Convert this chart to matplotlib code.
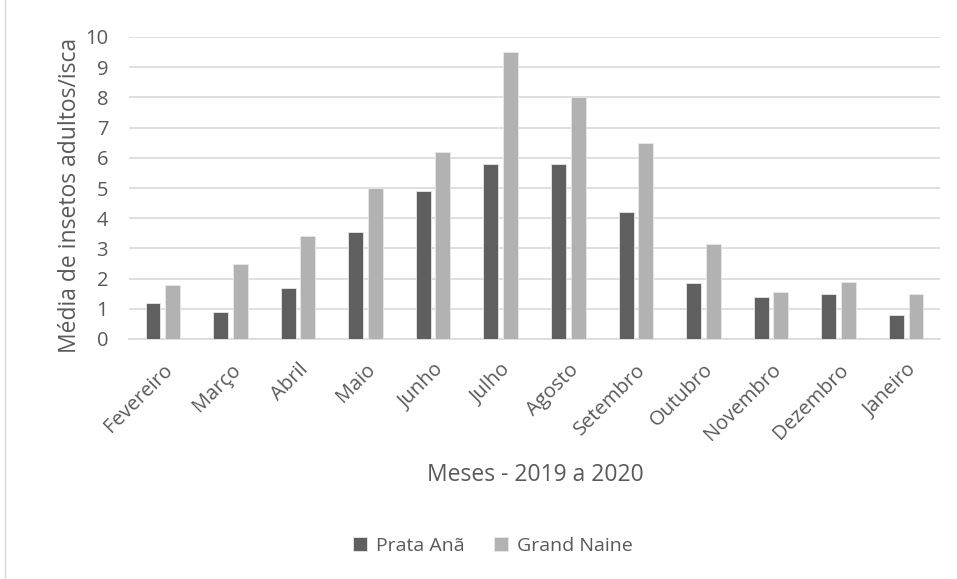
import numpy as np
import matplotlib.pyplot as plt
from matplotlib.lines import Line2D

# dados
meses = ["Fevereiro", "Março", "Abril", "Maio", "Junho", "Julho", "Agosto",
         "Setembro", "Outubro", "Novembro", "Dezembro", "Janeiro"]
prata_ana = [1.2, 0.9, 1.7, 3.55, 4.9, 5.8, 5.8, 4.2, 1.85, 1.4, 1.5, 0.8]
grand_naine = [1.8, 2.5, 3.4, 5.0, 6.2, 9.5, 8.0, 6.5, 3.15, 1.55, 1.9, 1.5]

cor_texto = "#595959"
plt.rcParams["font.family"] = ["Open Sans", "DejaVu Sans"]

fig = plt.figure(figsize=(9.57, 5.79), dpi=100)
ax = fig.add_axes([129 / 957, 1 - 339 / 579, 811 / 957, 302 / 579])

x = np.arange(len(meses))
w = 0.22
ax.bar(x - 0.145, prata_ana, w, color="#5f5f5f", edgecolor="#e8e8e8",
       linewidth=0.6, label="Prata Anã", zorder=3)
ax.bar(x + 0.145, grand_naine, w, color="#b2b2b2", edgecolor="#e8e8e8",
       linewidth=0.6, label="Grand Naine", zorder=3)

ax.set_xlim(-0.5, len(meses) - 0.5)
ax.set_ylim(0, 10)
ax.set_yticks(range(0, 11))
ax.yaxis.grid(True, color="#d9d9d9", linewidth=1.2, zorder=0)
ax.set_axisbelow(True)
for s in ["top", "right", "left"]:
    ax.spines[s].set_visible(False)
ax.spines["bottom"].set_color("#d9d9d9")
ax.spines["bottom"].set_linewidth(1.2)
ax.tick_params(axis="both", length=0, colors=cor_texto, labelsize=14.5)
ax.tick_params(axis="y", pad=15)

ax.set_xticks(x)
ax.set_xticklabels(meses, rotation=45, ha="right", rotation_mode="anchor")
ax.tick_params(axis="x", pad=15)

# títulos dos eixos
fig.text(70 / 957, 1 - 195 / 579, "Média de insetos adultos/isca",
         color=cor_texto, fontsize=16.5, rotation=90, ha="center", va="center")
fig.text(535 / 957, 1 - 475 / 579, "Meses - 2019 a 2020", color=cor_texto,
         fontsize=16.5, ha="center", va="center")

ax.legend(loc="center", bbox_to_anchor=(493 / 957, 1 - 546 / 579),
          bbox_transform=fig.transFigure, ncol=2, frameon=False,
          fontsize=14, labelcolor=cor_texto, handlelength=0.7,
          handleheight=0.7, columnspacing=1.5, handletextpad=0.5)

# borda esquerda do quadro
fig.add_artist(Line2D([5 / 957, 5 / 957], [0, 1], color="#d9d9d9",
                      linewidth=1, transform=fig.transFigure))

fig.savefig("out.png", dpi=100, facecolor="white")
